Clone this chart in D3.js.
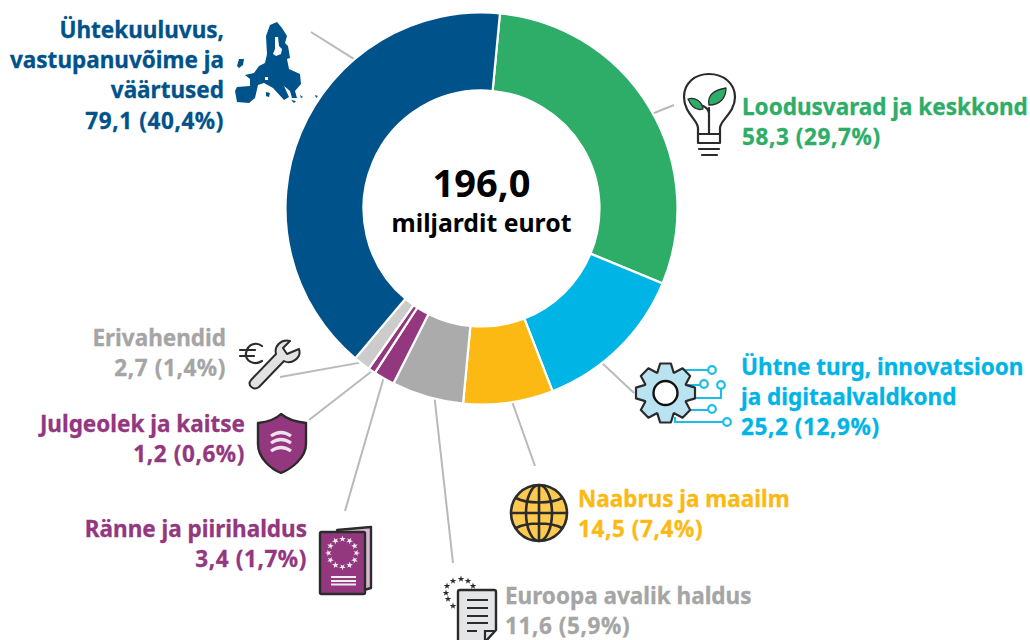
<!DOCTYPE html>
<html>
<head>
<meta charset="utf-8">
<title>ELi eelarve 2024</title>
<script src="https://d3js.org/d3.v7.min.js"></script>
<style>
	html, body { margin: 0; padding: 0; background: #fff; }
	svg { display: block; }
	text { font-family: "Noto Sans", "Open Sans", sans-serif; font-weight: 700; }
</style>
</head>
<body>
<script>
// data, clockwise from the blue/green border
const categories = ["Loodusvarad ja keskkond", "Ühtne turg, innovatsioon ja digitaalvaldkond", "Naabrus ja maailm", "Euroopa avalik haldus", "Ränne ja piirihaldus", "Julgeolek ja kaitse", "Erivahendid", "Ühtekuuluvus, vastupanuvõime ja väärtused"];
const values = [58.3, 25.2, 14.5, 11.6, 3.4, 1.2, 2.7, 79.1];
const shares = ["29,7%", "12,9%", "7,4%", "5,9%", "1,7%", "0,6%", "1,4%", "40,4%"];
const sliceColors = ["#2dad68", "#00b5e6", "#fdb913", "#ababab", "#93377f", "#93377f", "#cccccc", "#00528a"];
const textColors = ["#2dad68", "#00b5e6", "#fdb913", "#a5a5a5", "#93377f", "#93377f", "#a5a5a5", "#00528a"];
const totalValue = "196,0";
const totalUnit = "miljardit eurot";

// label wrap and placement
const labelLines = [
	["Loodusvarad ja keskkond"],
	["Ühtne turg, innovatsioon", "ja digitaalvaldkond"],
	["Naabrus ja maailm"],
	["Euroopa avalik haldus"],
	["Ränne ja piirihaldus"],
	["Julgeolek ja kaitse"],
	["Erivahendid"],
	["Ühtekuuluvus,", "vastupanuvõime ja", "väärtused"]
];
const labelBox = [
	{x: 742, y: 115, anchor: "start"},
	{x: 741, y: 375, anchor: "start"},
	{x: 578, y: 507, anchor: "start"},
	{x: 505, y: 604, anchor: "start"},
	{x: 307, y: 537, anchor: "end"},
	{x: 245, y: 432, anchor: "end"},
	{x: 226, y: 346, anchor: "end"},
	{x: 224, y: 38, anchor: "end"}
];
// leaders leave the ring at the slice middle + shift (deg) and end at a fixed spot by the icon
const leaderShift = [2, 6.5, -1, -2, 0.3, -0.3, 0, 27];
const leaderEnd = [[674, 105], [634, 393], [535, 466], [453, 563], [345, 511], [309, 420], [280, 377], [311, 32]];

const width = 1030, height = 640;
const cx = 481.5, cy = 208.5;
const outerR = 196, innerR = 118;
const startDeg = 5.4;

const svg = d3.select("body").append("svg")
	.attr("width", width)
	.attr("height", height)
	.attr("viewBox", "0 0 " + width + " " + height);

const pie = d3.pie().sort(null)
	.startAngle(startDeg * Math.PI / 180)
	.endAngle((startDeg + 360) * Math.PI / 180);
const arc = d3.arc().innerRadius(innerR).outerRadius(outerR);
const slices = pie(values);

const chart = svg.append("g").attr("transform", "translate(" + cx + "," + cy + ")");

// leader lines go under the ring
chart.append("g")
	.selectAll("line")
	.data(slices)
	.join("line")
		.attr("x1", (d, i) => leaderStart(d, i)[0])
		.attr("y1", (d, i) => leaderStart(d, i)[1])
		.attr("x2", (d, i) => leaderEnd[i][0] - cx)
		.attr("y2", (d, i) => leaderEnd[i][1] - cy)
		.attr("stroke", "#b9b9b9")
		.attr("stroke-width", 2);

chart.append("g")
	.selectAll("path")
	.data(slices)
	.join("path")
		.attr("d", arc)
		.attr("fill", (d, i) => sliceColors[i])
		.attr("stroke", "#fff")
		.attr("stroke-width", 2.2);

function leaderStart(d, i) {
	return d3.pointRadial((d.startAngle + d.endAngle) / 2 + leaderShift[i] * Math.PI / 180, outerR - 2);
}

// centre
chart.append("text")
	.attr("text-anchor", "middle")
	.attr("y", -12)
	.attr("font-size", 38)
	.attr("fill", "#000")
	.text(totalValue);
chart.append("text")
	.attr("text-anchor", "middle")
	.attr("y", 23)
	.attr("font-size", 24.8)
	.attr("fill", "#000")
	.text(totalUnit);

// labels
const lineGap = 30.2;
const labels = svg.append("g").selectAll("text")
	.data(categories)
	.join("text")
		.attr("text-anchor", (d, i) => labelBox[i].anchor)
		.attr("font-size", 22.5)
		.attr("stroke-width", 0.3)
		.attr("fill", (d, i) => textColors[i])
		.attr("stroke", (d, i) => textColors[i]);
labels.each(function(d, i) {
	const t = d3.select(this);
	labelLines[i].forEach((row, k) => {
		t.append("tspan")
			.attr("x", labelBox[i].x)
			.attr("y", labelBox[i].y + k * lineGap)
			.text(row);
	});
	// number row runs a bit wider than the name rows
	t.append("tspan")
		.attr("x", labelBox[i].x)
		.attr("y", labelBox[i].y + labelLines[i].length * lineGap)
		.attr("letter-spacing", 0.6)
		.text(values[i].toFixed(1).replace(".", ",") + " (" + shares[i] + ")");
});

// icons
const ink = "#2b2b2b";

// EU map
svg.append("path")
	.attr("fill", "#00528a")
	.attr("fill-rule", "evenodd")
	.attr("d", "M267 54L266 36L270 25L277 22L282 28L287 36L285 43L288 46L290 58L287 59L289 69L300 74L301 84L295 91L297 98L292 98L290 91L284 86L289 97L284 100L273 88L264 83L258 85L255 98L249 103L237 102L235 91L237 87L250 86L250 79L245 75L254 73L259 66L265 63Z"
		+ "M275 37L278 37L279 46L282 49L281 54L276 56L273 54L275 49Z"
		+ "M265 77L268 77L268 80L265 80Z"
		+ "M237 66L239 59L244 59L243 65L239 68Z"
		+ "M266 92L270 93L269 97L266 96Z M291 100L296 101L294 103Z M300 95L303 97L301 98Z M315 95L318 96L316 98Z");

// lightbulb
const bulb = svg.append("g").attr("fill", "none").attr("stroke", ink).attr("stroke-width", 2.2).attr("stroke-linecap", "round").attr("stroke-linejoin", "round");
bulb.append("path").attr("d", "M698 134L698 128C698 120 684 113 684 97C684 83 695 74 709 74C723 74 735 83 735 97C735 113 720 120 720 128L720 134Z");
bulb.append("path").attr("d", "M698 143L720 143M698 134L698 143M720 134L720 143M699 149L719 149M702 155L717 155");
bulb.append("path").attr("d", "M709 134L709 108M709 113C708 109 706 107 703 106");
svg.append("path").attr("fill", "#2dad68").attr("stroke", ink).attr("stroke-width", 1.3).attr("stroke-linejoin", "round")
	.attr("d", "M709 105C707 95 714 90 726 88C726 98 720 105 709 105Z M703 109C696 111 691 106 688 99C695 97 702 101 703 109Z");

// gear + circuit
const circ = svg.append("g").attr("fill", "none").attr("stroke", "#1cbcea").attr("stroke-width", 2);
circ.append("path").attr("d", "M684 370L709 370M687 385L701 385M690 398L721 398L721 389M688 410L709 410M675 417L675 422L723 422");
circ.selectAll("circle")
	.data([[712, 370], [704, 384], [721, 385], [712, 409], [727, 422]])
	.join("circle")
		.attr("cx", d => d[0]).attr("cy", d => d[1]).attr("r", 3.8)
		.attr("fill", "#fff").attr("stroke-width", 2.2);
const gearPoints = d3.range(8).flatMap(k => {
	const a = k * Math.PI / 4;
	return [[a - 0.38, 22], [a - 0.18, 30], [a + 0.18, 30], [a + 0.38, 22]];
});
const gear = svg.append("g").attr("transform", "translate(665.5,393)");
gear.append("path")
	.attr("d", d3.lineRadial().curve(d3.curveLinearClosed)(gearPoints))
	.attr("fill", "#b9e3f0").attr("stroke", ink).attr("stroke-width", 2.2).attr("stroke-linejoin", "round");
gear.append("circle").attr("r", 12).attr("fill", "#fff").attr("stroke", "#111").attr("stroke-width", 2.4);

// globe
const globe = svg.append("g").attr("transform", "translate(539,513)").attr("fill", "none").attr("stroke", ink).attr("stroke-width", 2.6);
globe.append("circle").attr("r", 28).attr("fill", "#fdc94f");
globe.append("ellipse").attr("rx", 13).attr("ry", 28);
globe.append("path").attr("d", "M0 -28L0 28M-28 0L28 0M-23 -15C-12 -9 12 -9 23 -15M-23 15C-12 9 12 9 23 15");

// document with stars
const stars = d3.symbol().type(d3.symbolStar).size(14);
const docStars = [[453, 606], [448, 599], [446, 593], [447, 586], [453, 581], [461, 579], [468, 581], [473, 586]];
svg.append("g")
	.selectAll("path")
	.data(docStars)
	.join("path")
		.attr("d", stars)
		.attr("transform", d => "translate(" + d[0] + "," + d[1] + ")")
		.attr("fill", ink);
svg.append("path").attr("fill", "#e4e5e6").attr("stroke", ink).attr("stroke-width", 2.4).attr("stroke-linejoin", "round")
	.attr("d", "M460 590L494 590Q496 590 496 592L496 630L485 642L460 642Q458 642 458 639L458 592Q458 590 460 590Z");
svg.append("path").attr("fill", "none").attr("stroke", ink).attr("stroke-width", 2.2)
	.attr("d", "M467 600L488 600M467 608L488 608M467 616L488 616M467 623L488 623M467 631L477 631M485 642L485 631L496 631");

// passport
svg.append("path").attr("fill", "#d8b8d1").attr("stroke", ink).attr("stroke-width", 2.4).attr("stroke-linejoin", "round")
	.attr("d", "M337 530L371 527L371 588L364 590Z");
svg.append("rect").attr("x", 320).attr("y", 532).attr("width", 45).attr("height", 62).attr("rx", 1.5)
	.attr("fill", "#93377f").attr("stroke", ink).attr("stroke-width", 2.4);
const passStars = d3.range(12).map(k => k * 30);
svg.append("g").attr("transform", "translate(342.5,553)")
	.selectAll("path")
	.data(passStars)
	.join("path")
		.attr("d", stars)
		.attr("transform", d => "rotate(" + d + ") translate(0,-14) ")
		.attr("fill", "#eee");
svg.append("path").attr("stroke", "#eee").attr("stroke-width", 1.8).attr("fill", "none")
	.attr("d", "M331 577L356 577M331 581L356 581M331 584.5L356 584.5");

// shield
svg.append("path").attr("fill", "#93377f").attr("stroke", ink).attr("stroke-width", 2.4).attr("stroke-linejoin", "round")
	.attr("d", "M281 414C276 419 267 422 258 423L258 444C258 458 271 469 281 473C291 469 306 458 306 444L306 423C296 422 287 419 281 414Z");
svg.append("path").attr("fill", "none").attr("stroke", "#efe2ec").attr("stroke-width", 3.2)
	.attr("d", "M271 436Q281 429 291 436M271 443Q281 436 291 443M271 451Q281 444 291 451");

// euro and wrench
svg.append("path").attr("fill", "none").attr("stroke", ink).attr("stroke-width", 2.2).attr("stroke-linecap", "round")
	.attr("d", "M262 346C257 342 248 343 246 353C245 361 254 366 262 361M240 350L255 350M240 356L254 356");
svg.append("path").attr("fill", "#e2e2e2").attr("stroke", ink).attr("stroke-width", 2).attr("stroke-linejoin", "round")
	.attr("d", "M276 354C274 346 281 339 290 341L283 348L287 354L299 349C302 358 291 365 284 361L259 387C253 391 247 385 251 380Z");
</script>
</body>
</html>
